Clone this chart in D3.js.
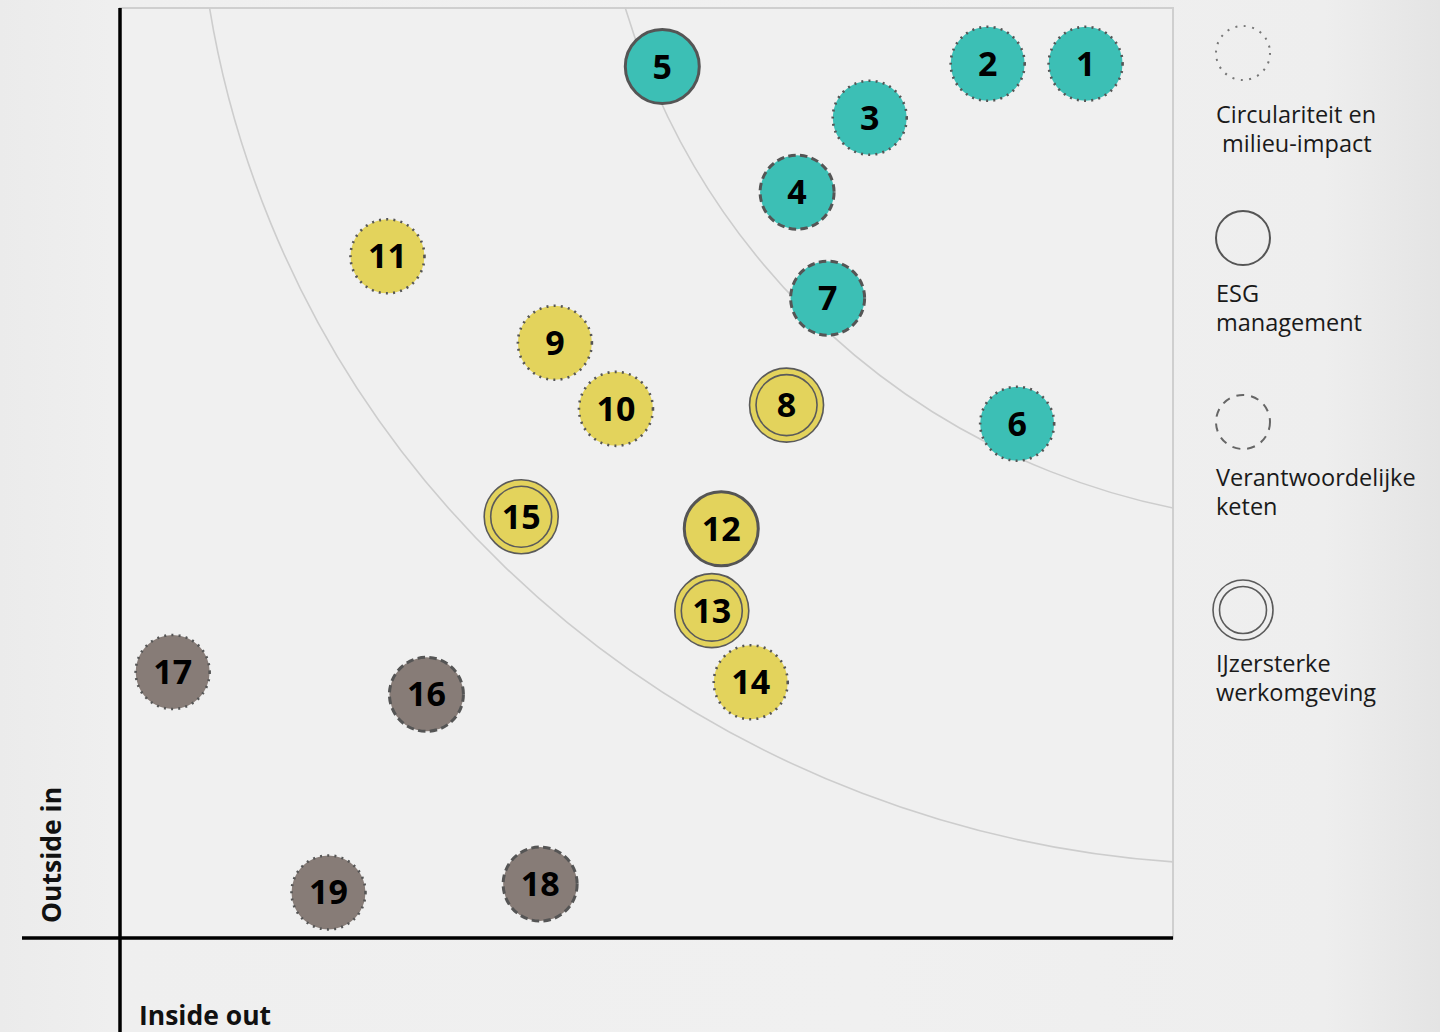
<!DOCTYPE html>
<html>
<head>
<meta charset="utf-8">
<script src="https://cdn.jsdelivr.net/npm/d3@7"></script>
<style>
  html, body { margin: 0; padding: 0; }
  body {
    width: 1440px; height: 1032px; overflow: hidden;
    background: linear-gradient(to right, #ebebeb 0px, #efefef 110px, #f0f0f0 60%, #eeeeee 92%, #e4e4e4 100%);
    font-family: "Open Sans", sans-serif;
  }
</style>
</head>
<body>
<svg id="chart" width="1440" height="1032"></svg>
<script>
// topic numbers and their position (0-100 on both axes)
const topics = ["1", "2", "3", "4", "5", "6", "7", "8", "9", "10", "11", "12", "13", "14", "15", "16", "17", "18", "19"];
const insideOut = [91.7, 82.4, 71.2, 64.3, 51.5, 85.2, 67.2, 63.3, 41.3, 47.1, 25.4, 57.1, 56.2, 59.9, 38.1, 29.1, 5.0, 39.9, 19.8];
const outsideIn = [94.0, 94.0, 88.2, 80.2, 93.7, 55.3, 68.8, 57.3, 64.0, 56.9, 73.3, 44.0, 35.2, 27.5, 45.3, 26.2, 28.6, 5.8, 4.9];
// priority group (fill colour) and theme (outline style)
const priority = ["high", "high", "high", "high", "high", "high", "high", "mid", "mid", "mid", "mid", "mid", "mid", "mid", "mid", "low", "low", "low", "low"];
const theme = ["circ", "circ", "circ", "chain", "esg", "circ", "chain", "work", "circ", "circ", "circ", "esg", "work", "circ", "work", "chain", "circ", "chain", "circ"];

const themeKeys = ["circ", "esg", "chain", "work"];
const themeLabels = [["Circulariteit en", "\u00a0milieu-impact"], ["ESG", "management"], ["Verantwoordelijke", "keten"], ["IJzersterke", "werkomgeving"]];

// guide arcs (ellipse centre and radii in axis units)
const arcCx = [107.3, 113.6];
const arcCy = [117.0, 122.3];
const arcRx = [100, 68.5];
const arcRy = [109.1, 77.6];

const axisX = "Inside out";
const axisY = "Outside in";

const svg = d3.select("#chart");

const plotLeft = 120, plotRight = 1173, plotTop = 8, plotBottom = 938;
const x = d3.scaleLinear().domain([0, 100]).range([plotLeft, plotRight]);
const y = d3.scaleLinear().domain([0, 100]).range([plotBottom, plotTop]);

const fill = d3.scaleOrdinal().domain(["high", "mid", "low"]).range(["#3cbfb5", "#e3d35c", "#877c77"]);

// plot frame
svg.append("rect")
    .attr("x", x(0)).attr("y", y(100))
    .attr("width", x(100) - x(0)).attr("height", y(0) - y(100))
    .attr("fill", "#f0f0f0")
    .attr("stroke", "#cfcfcf")
    .attr("stroke-width", 2);

svg.append("clipPath").attr("id", "plotClip")
    .append("rect")
    .attr("x", x(0)).attr("y", y(100))
    .attr("width", x(100) - x(0)).attr("height", y(0) - y(100));

// arcs
svg.append("g").attr("clip-path", "url(#plotClip)")
    .selectAll("ellipse")
    .data(arcCx)
    .join("ellipse")
    .attr("cx", d => x(d))
    .attr("cy", (d, i) => y(arcCy[i]))
    .attr("rx", (d, i) => x(arcRx[i]) - x(0))
    .attr("ry", (d, i) => y(0) - y(arcRy[i]))
    .attr("fill", "none")
    .attr("stroke", "#cdcdcd")
    .attr("stroke-width", 1.6);

// axes
svg.append("line")
    .attr("x1", x(0)).attr("x2", x(0))
    .attr("y1", y(100)).attr("y2", 1032)
    .attr("stroke", "#000").attr("stroke-width", 3.5);
svg.append("line")
    .attr("x1", 22).attr("x2", x(100))
    .attr("y1", y(0)).attr("y2", y(0))
    .attr("stroke", "#000").attr("stroke-width", 3.5);

svg.append("text")
    .attr("x", 139).attr("y", 1025)
    .attr("font-size", 26.5).attr("font-weight", 700).attr("fill", "#111")
    .text(axisX);
svg.append("text")
    .attr("transform", "translate(61,923) rotate(-90)")
    .attr("font-size", 26.5).attr("font-weight", 700).attr("fill", "#111")
    .text(axisY);

// outline styles
function drawOutline(g, kind, r, legend) {
    if (kind === "work") {
        g.append("circle").attr("r", r).attr("fill", "none").attr("stroke", "#5a5a5a").attr("stroke-width", 1.6);
        g.append("circle").attr("r", r - 6.5).attr("fill", "none").attr("stroke", "#5a5a5a").attr("stroke-width", 1.6);
        return;
    }
    const c = g.append("circle").attr("r", r).attr("fill", "none");
    if (kind === "esg") {
        c.attr("stroke", "#555").attr("stroke-width", legend ? 2 : 3);
    } else if (kind === "chain") {
        c.attr("stroke", legend ? "#666" : "#555")
            .attr("stroke-width", legend ? 2 : 3)
            .attr("stroke-dasharray", legend ? "8 7" : "7.5 4.3");
    } else {
        c.attr("stroke", legend ? "#777" : "#555")
            .attr("stroke-width", legend ? 2 : 2.6)
            .attr("stroke-dasharray", legend ? "2 6.5" : "2 5.2");
    }
}

// bubbles
const R = 37;
const nodes = svg.append("g").selectAll("g")
    .data(topics)
    .join("g")
    .attr("transform", (d, i) => "translate(" + x(insideOut[i]) + "," + y(outsideIn[i]) + ")");

nodes.append("circle")
    .attr("r", R)
    .attr("fill", (d, i) => fill(priority[i]));

nodes.each(function (d, i) {
    drawOutline(d3.select(this), theme[i], R, false);
});

nodes.append("text")
    .attr("text-anchor", "middle")
    .attr("y", 12)
    .attr("font-size", 34)
    .attr("font-weight", 700)
    .attr("fill", "#000")
    .text(d => d);

// legend
const legendY = [53, 238, 422, 610];
const legendTextY = [123, 302, 486, 672];
const legend = svg.append("g").selectAll("g")
    .data(themeKeys)
    .join("g");

legend.each(function (d, i) {
    const g = d3.select(this).append("g").attr("transform", "translate(1243," + legendY[i] + ")");
    drawOutline(g, d, d === "work" ? 30 : 27, true);
});

legend.append("text")
    .attr("font-size", 23.5)
    .attr("fill", "#1a1a1a")
    .each(function (d, i) {
        d3.select(this).selectAll("tspan")
            .data(themeLabels[i])
            .join("tspan")
            .attr("x", 1216)
            .attr("y", (t, j) => legendTextY[i] + j * 29)
            .text(t => t);
    });
</script>
</body>
</html>
